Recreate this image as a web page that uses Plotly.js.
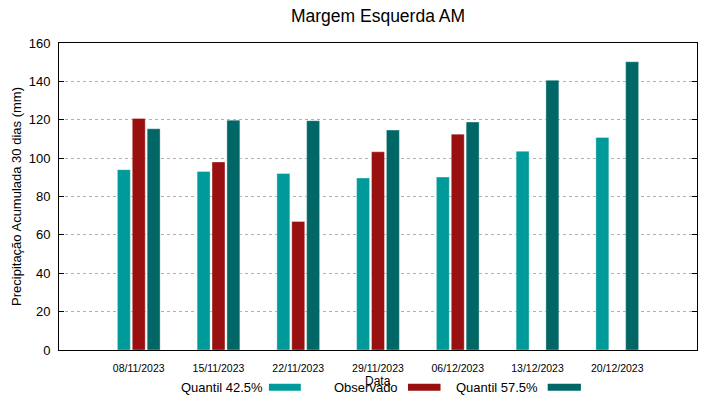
<!DOCTYPE html>
<html>
<head>
<meta charset="utf-8">
<script src="https://cdn.plot.ly/plotly-3.0.1.min.js"></script>
<style>html,body{margin:0;padding:0;background:#fff;}#chart{width:719px;height:399px;}</style>
</head>
<body>
<div id="chart"></div>
<script>
const categories = ["08/11/2023","15/11/2023","22/11/2023","29/11/2023","06/12/2023","13/12/2023","20/12/2023"];
const quantil425 = [94, 93, 92, 89.6, 90.1, 103.6, 110.8];
const observado = [120.7, 98, 67, 103.3, 112.5, null, null];
const quantil575 = [115.3, 119.8, 119.5, 114.6, 118.8, 140.6, 150.2];
const seriesNames = ["Quantil 42.5%", "Observado", "Quantil 57.5%"];
const colors = ["#009a9a", "#991010", "#006666"];
const yTicks = [0,20,40,60,80,100,120,140,160];

const font = "Liberation Sans, Arial, sans-serif";
const idx = categories.map((c,i)=>i);
const data = [quantil425, observado, quantil575].map((vals,k)=>({
  type: "bar", x: idx, y: vals, name: seriesNames[k],
  marker: {color: colors[k], line: {color: "rgba(255,255,255,0.35)", width: 1}},
  showlegend: false, hoverinfo: "y"
}));

// custom legend (text then swatch, gnuplot style)
const legText = [[0.323, seriesNames[0]], [0.534, seriesNames[1]], [0.754, seriesNames[2]]];
const legSwatch = [[0.329, 0.379], [0.547, 0.598], [0.766, 0.818]];
const annotations = [
  {text: "Data", xref: "paper", yref: "paper", x: 0.5, y: -0.1, showarrow: false, font: {family: font, size: 12, color: "#000"}, xanchor: "center", yanchor: "middle"}
];
legText.forEach(([x,t])=>annotations.push({text: t, xref:"paper", yref:"paper", x: x, y: -0.123, xanchor:"right", yanchor:"middle", showarrow:false, font:{family:font,size:13,color:"#000"}}));
const shapes = legSwatch.map(([a,b],k)=>({type:"rect", xref:"paper", yref:"paper", x0:a, x1:b, y0:-0.133, y1:-0.110, fillcolor: colors[k], line:{width:0}}));

const layout = {
  width: 719, height: 399,
  margin: {l: 59, r: 22, t: 43, b: 49},
  paper_bgcolor: "#fff", plot_bgcolor: "#fff",
  font: {family: font, color: "#000"},
  title: {text: "Margem Esquerda AM", xref: "paper", x: 0.5, xanchor: "center", y: 0.96, yanchor: "middle", font: {family: font, size: 17.5, color: "#000"}},
  barmode: "group", bargap: 0.44, bargroupgap: 0.13,
  xaxis: {
    range: [-1, 7], tickmode: "array", tickvals: idx, ticktext: categories,
    tickfont: {family: font, size: 10.5, color: "#000"}, ticks: "", showgrid: false,
    ticklabelstandoff: 8,
    showline: true, linecolor: "#000", linewidth: 1, mirror: true, zeroline: false
  },
  yaxis: {
    range: [0, 160], tickmode: "array", tickvals: yTicks,
    tickfont: {family: font, size: 13, color: "#000"},
    ticks: "inside", ticklen: 5, tickcolor: "#000", mirror: "ticks",
    ticklabelstandoff: 5,
    showline: true, linecolor: "#000", linewidth: 1,
    showgrid: true, gridcolor: "#b0b0b0", griddash: "dot", gridwidth: 1, zeroline: false,
    title: {text: "Precipitação Acumulada 30 dias (mm)", font: {family: font, size: 13, color: "#000"}, standoff: 4}
  },
  annotations: annotations, shapes: shapes
};
Plotly.newPlot("chart", data, layout, {displayModeBar: false, staticPlot: true});
</script>
</body>
</html>
